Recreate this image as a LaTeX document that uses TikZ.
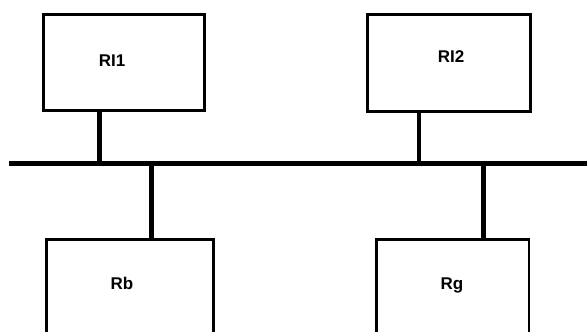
\documentclass[tikz,border=0pt]{standalone}
\usepackage{fontspec}
\setmainfont{Liberation Sans}
\usetikzlibrary{positioning}

\tikzset{
  router/.style={draw, line width=2.4pt, inner sep=0pt},
  rname/.style={font=\bfseries\fontsize{14.5}{16}\selectfont, inner sep=0pt},
  bus/.style={line width=4.2pt},
  stub/.style={line width=4.2pt}
}

\begin{document}
\begin{tikzpicture}[x=0.03cm, y=-0.03cm]
  % page frame, in pixel units (y downwards)
  \useasboundingbox (0,0) rectangle (587,331);
  \clip (0,0) rectangle (587,331);

  % upper routers
  \node[router, minimum width=4.83cm, minimum height=2.88cm] (ri1) at (123.8,62.5) {};
  \node[router, minimum width=4.89cm, minimum height=2.90cm] (ri2) at (449.2,62.8) {};
  \node[rname] (l1) at (112,61) {RI1};
  \node[rname] (l2) at (451,57) {RI2};

  % lower routers, running off the bottom edge
  \node[router, anchor=north, minimum width=5.01cm, minimum height=4cm] (rb) at (129.8,238) {};
  \node[router, anchor=north, minimum width=4.58cm, minimum height=4cm] (rg) at (452.7,238) {};
  \node[rname] (l3) at (122,283.5) {Rb};
  \node[rname] (l4) at (452,285.5) {Rg};

  % the shared segment
  \coordinate (busL) at (9,163.3);
  \coordinate (busR) at (590,163.3);
  \draw[bus] (busL) -- (busR);

  % taps onto the segment
  \coordinate (j1) at (99.2,163.3);
  \coordinate (j2) at (419,163.3);
  \coordinate (j3) at (151.5,163.3);
  \coordinate (j4) at (483.2,163.3);
  \draw[stub] (ri1.south -| j1) -- (j1);
  \draw[stub] (ri2.south -| j2) -- (j2);
  \draw[stub] (j3) -- (j3 |- rb.north);
  \draw[stub] (j4) -- (j4 |- rg.north);
\end{tikzpicture}
\end{document}
